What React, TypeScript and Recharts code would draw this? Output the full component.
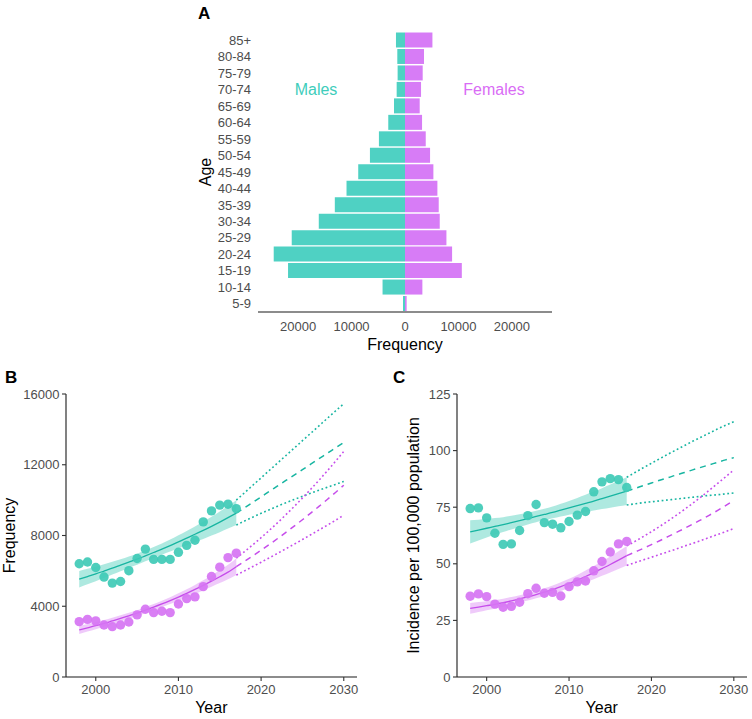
import React from 'react';
import { BarChart, Bar, XAxis, YAxis, ComposedChart, Line, Area } from 'recharts';

const FONT = '"Liberation Sans", Arial, Helvetica, sans-serif';
const TEAL_BAR = '#4FD1C3';
const PINK_BAR = '#D77CF6';
const TEAL_PT = '#3FCAB6';
const PINK_PT = '#D674F3';
const TEAL_LINE = '#17B5A1';
const PINK_LINE = '#C64DEB';
const TEAL_TEXT = '#3ECDBB';
const PINK_TEXT = '#D96CF5';
const AXIS = '#1a1a1a';
const TICK_TEXT = '#4D4D4D';

// ---------- Panel A: age pyramid ----------
const ageGroups = ['85+', '80-84', '75-79', '70-74', '65-69', '60-64', '55-59', '50-54', '45-49', '40-44', '35-39', '30-34', '25-29', '20-24', '15-19', '10-14', '5-9'];
const maleCounts = [1690, 1440, 1380, 1560, 2060, 3130, 4880, 6560, 8750, 10940, 13130, 16130, 21190, 24560, 21880, 4200, 380];
const femaleCounts = [5130, 3560, 3310, 3000, 2750, 3190, 3880, 4690, 5310, 6060, 6310, 6500, 7750, 8810, 10630, 3250, 310];
const pyramidTicks = [-20000, -10000, 0, 10000, 20000];

// ---------- Years ----------
const obsYears = [1998, 1999, 2000, 2001, 2002, 2003, 2004, 2005, 2006, 2007, 2008, 2009, 2010, 2011, 2012, 2013, 2014, 2015, 2016, 2017];
const projYears = [2017, 2018, 2019, 2020, 2021, 2022, 2023, 2024, 2025, 2026, 2027, 2028, 2029, 2030];
const yearTicks = [2000, 2010, 2020, 2030];

// ---------- Panel B: frequency ----------
const freqMaleObs = [6400, 6500, 6190, 5650, 5310, 5400, 6010, 6700, 7230, 6650, 6650, 6650, 7050, 7440, 7730, 8770, 9390, 9720, 9770, 9520];
const freqFemaleObs = [3130, 3260, 3170, 2940, 2850, 2940, 3110, 3510, 3830, 3640, 3720, 3640, 4130, 4430, 4530, 5110, 5680, 6210, 6750, 7000];
const freqMaleFit = [5530, 5680, 5830, 5990, 6150, 6320, 6490, 6660, 6850, 7040, 7230, 7430, 7640, 7850, 8070, 8290, 8520, 8760, 9010, 9265];
const freqMaleLow = [5060, 5240, 5420, 5605, 5790, 5980, 6165, 6345, 6540, 6730, 6910, 7090, 7270, 7445, 7625, 7800, 8000, 8190, 8390, 8590];
const freqMaleHigh = [6000, 6120, 6240, 6375, 6510, 6660, 6815, 6975, 7160, 7350, 7550, 7770, 8010, 8255, 8515, 8780, 9060, 9355, 9665, 10000];
const freqFemaleFit = [2660, 2780, 2900, 3030, 3170, 3310, 3460, 3610, 3780, 3950, 4130, 4320, 4520, 4730, 4950, 5180, 5420, 5670, 5930, 6240];
const freqFemaleLow = [2435, 2570, 2700, 2840, 2990, 3135, 3290, 3440, 3610, 3775, 3945, 4125, 4310, 4500, 4695, 4895, 5100, 5310, 5520, 5760];
const freqFemaleHigh = [2885, 2990, 3100, 3220, 3350, 3485, 3630, 3780, 3950, 4125, 4315, 4515, 4730, 4960, 5205, 5465, 5740, 6030, 6340, 6720];
const freqMaleUp = [10000, 10420, 10840, 11260, 11680, 12100, 12520, 12940, 13360, 13780, 14200, 14620, 15040, 15450];
const freqMaleMid = [9265, 9570, 9880, 10185, 10495, 10800, 11110, 11415, 11725, 12030, 12340, 12645, 12955, 13260];
const freqMaleDown = [8590, 8820, 9040, 9255, 9460, 9660, 9850, 10035, 10215, 10390, 10560, 10725, 10890, 11055];
const freqFemaleUp = [6720, 7090, 7475, 7875, 8295, 8725, 9175, 9640, 10120, 10615, 11125, 11650, 12195, 12750];
const freqFemaleMid = [6240, 6540, 6849, 7167, 7494, 7830, 8175, 8529, 8892, 9264, 9645, 10035, 10434, 10843];
const freqFemaleDown = [5760, 6000, 6243, 6490, 6740, 6993, 7250, 7510, 7773, 8040, 8310, 8583, 8860, 9150];
const freqTicks = [0, 4000, 8000, 12000, 16000];

// ---------- Panel C: incidence ----------
const incMaleObs = [74.4, 74.7, 70.3, 63.5, 58.6, 58.8, 64.7, 71.3, 76.2, 68.2, 67.5, 65.9, 68.7, 71.5, 73.1, 81.8, 86.2, 87.6, 87.2, 83.7];
const incFemaleObs = [35.7, 36.7, 35.5, 32.2, 30.8, 31.2, 33.0, 36.8, 39.2, 37.0, 37.4, 35.8, 39.9, 42.0, 42.4, 46.9, 51.0, 55.2, 58.8, 59.9];
const incMaleFit = [64.1, 64.9, 65.7, 66.5, 67.3, 68.2, 69.1, 70.0, 70.9, 71.8, 72.7, 73.7, 74.7, 75.7, 76.7, 77.7, 78.8, 79.9, 81.0, 82.1];
const incMaleLow = [59.0, 60.3, 61.6, 62.8, 64.0, 65.2, 66.3, 67.4, 68.4, 69.3, 70.1, 70.9, 71.7, 72.3, 72.9, 73.5, 74.2, 74.8, 75.4, 76.0];
const incMaleHigh = [69.2, 69.5, 69.8, 70.2, 70.6, 71.2, 71.9, 72.6, 73.4, 74.3, 75.3, 76.5, 77.7, 79.1, 80.5, 81.9, 83.4, 85.0, 86.6, 88.2];
const incFemaleFit = [30.3, 30.9, 31.5, 32.1, 32.8, 33.6, 34.5, 35.4, 36.4, 37.5, 38.6, 39.9, 41.3, 42.8, 44.4, 46.1, 47.9, 49.7, 51.6, 53.6];
const incFemaleLow = [27.9, 28.7, 29.5, 30.2, 31.0, 31.9, 32.9, 33.8, 34.8, 35.8, 36.8, 38.0, 39.2, 40.5, 41.8, 43.2, 44.7, 46.2, 47.7, 49.3];
const incFemaleHigh = [32.7, 33.1, 33.5, 34.0, 34.6, 35.3, 36.1, 37.0, 38.0, 39.2, 40.4, 41.8, 43.4, 45.1, 47.0, 49.0, 51.1, 53.2, 55.5, 57.9];
const incMaleUp = [88.2, 90.3, 92.4, 94.4, 96.4, 98.4, 100.3, 102.2, 104.1, 105.9, 107.7, 109.5, 111.2, 112.8];
const incMaleMid = [82.1, 83.3, 84.5, 85.7, 86.9, 88.0, 89.2, 90.3, 91.5, 92.6, 93.7, 94.8, 95.9, 96.9];
const incMaleDown = [76.0, 76.5, 77.0, 77.4, 77.8, 78.2, 78.6, 79.0, 79.4, 79.8, 80.2, 80.5, 80.9, 81.3];
const incFemaleUp = [57.9, 59.9, 62.0, 64.2, 66.5, 68.9, 71.4, 74.0, 76.7, 79.5, 82.4, 85.4, 88.4, 91.5];
const incFemaleMid = [53.6, 55.2, 56.8, 58.5, 60.2, 62.0, 63.8, 65.6, 67.5, 69.4, 71.4, 73.5, 75.7, 78.0];
const incFemaleDown = [49.3, 50.5, 51.7, 52.9, 54.1, 55.3, 56.5, 57.8, 59.0, 60.3, 61.6, 62.9, 64.2, 65.6];
const incTicks = [0, 25, 50, 75, 100, 125];

const pyramidRows = ageGroups.map((age, i) => ({ age, male: -maleCounts[i], female: femaleCounts[i] }));

const allYears = [...obsYears, ...projYears.filter((y) => obsYears.indexOf(y) < 0)];

function buildRows(
  mObs: number[], fObs: number[],
  mFit: number[], mLo: number[], mHi: number[],
  fFit: number[], fLo: number[], fHi: number[],
  mUp: number[], mMid: number[], mDown: number[],
  fUp: number[], fMid: number[], fDown: number[]
) {
  return allYears.map((year) => {
    const i = obsYears.indexOf(year);
    const j = projYears.indexOf(year);
    return {
      year,
      mObs: i >= 0 ? mObs[i] : null,
      fObs: i >= 0 ? fObs[i] : null,
      mFit: i >= 0 ? mFit[i] : null,
      fFit: i >= 0 ? fFit[i] : null,
      mBand: i >= 0 ? [mLo[i], mHi[i]] : null,
      fBand: i >= 0 ? [fLo[i], fHi[i]] : null,
      mUp: j >= 0 ? mUp[j] : null,
      mMid: j >= 0 ? mMid[j] : null,
      mDown: j >= 0 ? mDown[j] : null,
      fUp: j >= 0 ? fUp[j] : null,
      fMid: j >= 0 ? fMid[j] : null,
      fDown: j >= 0 ? fDown[j] : null,
    };
  });
}

const freqRows = buildRows(freqMaleObs, freqFemaleObs, freqMaleFit, freqMaleLow, freqMaleHigh,
  freqFemaleFit, freqFemaleLow, freqFemaleHigh, freqMaleUp, freqMaleMid, freqMaleDown,
  freqFemaleUp, freqFemaleMid, freqFemaleDown);
const incRows = buildRows(incMaleObs, incFemaleObs, incMaleFit, incMaleLow, incMaleHigh,
  incFemaleFit, incFemaleLow, incFemaleHigh, incMaleUp, incMaleMid, incMaleDown,
  incFemaleUp, incFemaleMid, incFemaleDown);

const tickStyle = { fill: TICK_TEXT, fontSize: 13, fontFamily: FONT };
const DOTTED = '1.8 2.6';
const DASHED = '6 5';

function TrendPanel(props: {
  rows: any[]; yDomain: number[]; yTicks: number[]; yWidth: number; marginLeft: number; marginRight: number;
}) {
  const { rows, yDomain, yTicks, yWidth, marginLeft, marginRight } = props;
  return (
    <ComposedChart
      width={376}
      height={359}
      data={rows}
      margin={{ top: 34, right: marginRight, bottom: 12, left: marginLeft }}
    >
      <XAxis
        type="number"
        dataKey="year"
        domain={[1996.4, 2031.6]}
        ticks={yearTicks}
        interval={0}
        allowDataOverflow
        height={30}
        tick={tickStyle}
        tickSize={4}
        tickMargin={3.5}
        axisLine={{ stroke: AXIS, strokeWidth: 1.1 }}
        tickLine={{ stroke: '#333', strokeWidth: 1.1 }}
      />
      <YAxis
        type="number"
        domain={yDomain}
        ticks={yTicks}
        interval={0}
        allowDataOverflow
        width={yWidth}
        tick={tickStyle}
        tickSize={4}
        tickMargin={2.5}
        axisLine={{ stroke: AXIS, strokeWidth: 1.1 }}
        tickLine={{ stroke: '#333', strokeWidth: 1.1 }}
      />
      <Area dataKey="mBand" type="monotone" stroke="none" fill={TEAL_PT} fillOpacity={0.42} isAnimationActive={false} activeDot={false} />
      <Area dataKey="fBand" type="monotone" stroke="none" fill={PINK_PT} fillOpacity={0.38} isAnimationActive={false} activeDot={false} />
      <Line dataKey="mObs" stroke="none" dot={{ r: 4.7, fill: TEAL_PT, stroke: 'none', fillOpacity: 0.92 }} activeDot={false} isAnimationActive={false} />
      <Line dataKey="fObs" stroke="none" dot={{ r: 4.7, fill: PINK_PT, stroke: 'none', fillOpacity: 0.92 }} activeDot={false} isAnimationActive={false} />
      <Line dataKey="mFit" type="monotone" stroke={TEAL_LINE} strokeWidth={1.3} dot={false} activeDot={false} isAnimationActive={false} />
      <Line dataKey="fFit" type="monotone" stroke={PINK_LINE} strokeWidth={1.3} dot={false} activeDot={false} isAnimationActive={false} />
      <Line dataKey="mUp" type="monotone" stroke={TEAL_LINE} strokeWidth={1.6} strokeDasharray={DOTTED} dot={false} activeDot={false} isAnimationActive={false} />
      <Line dataKey="mMid" type="monotone" stroke={TEAL_LINE} strokeWidth={1.5} strokeDasharray={DASHED} dot={false} activeDot={false} isAnimationActive={false} />
      <Line dataKey="mDown" type="monotone" stroke={TEAL_LINE} strokeWidth={1.6} strokeDasharray={DOTTED} dot={false} activeDot={false} isAnimationActive={false} />
      <Line dataKey="fUp" type="monotone" stroke={PINK_LINE} strokeWidth={1.6} strokeDasharray={DOTTED} dot={false} activeDot={false} isAnimationActive={false} />
      <Line dataKey="fMid" type="monotone" stroke={PINK_LINE} strokeWidth={1.5} strokeDasharray={DASHED} dot={false} activeDot={false} isAnimationActive={false} />
      <Line dataKey="fDown" type="monotone" stroke={PINK_LINE} strokeWidth={1.6} strokeDasharray={DOTTED} dot={false} activeDot={false} isAnimationActive={false} />
    </ComposedChart>
  );
}

export default function App() {
  return (
    <div style={{ position: 'absolute', left: 0, top: 0, width: 752, height: 719, background: '#fff', fontFamily: FONT }}>
      <div style={{ position: 'absolute', left: 0, top: 0 }}>
        <BarChart
          width={752}
          height={360}
          data={pyramidRows}
          layout="vertical"
          stackOffset="sign"
          barCategoryGap={0.5}
          margin={{ top: 32, right: 200, bottom: 18, left: 198 }}
        >
          <XAxis
            type="number"
            domain={[-27500, 27500]}
            ticks={pyramidTicks}
            interval={0}
            tickFormatter={(v: number) => String(Math.abs(v))}
            height={30}
            tick={tickStyle}
            tickSize={4}
            tickMargin={6}
            tickLine={false}
            axisLine={{ stroke: AXIS, strokeWidth: 1.1 }}
          />
          <YAxis
            type="category"
            dataKey="age"
            width={60}
            interval={0}
            tick={tickStyle}
            tickSize={4}
            tickMargin={3}
            tickLine={false}
            axisLine={false}
          />
          <Bar dataKey="male" stackId="s" fill={TEAL_BAR} isAnimationActive={false} />
          <Bar dataKey="female" stackId="s" fill={PINK_BAR} isAnimationActive={false} />
        </BarChart>
      </div>
      <div style={{ position: 'absolute', left: 0, top: 360 }}>
        <TrendPanel rows={freqRows} yDomain={[0, 16000]} yTicks={freqTicks} yWidth={56} marginLeft={10} marginRight={19} />
      </div>
      <div style={{ position: 'absolute', left: 376, top: 360 }}>
        <TrendPanel rows={incRows} yDomain={[0, 125]} yTicks={incTicks} yWidth={40} marginLeft={41} marginRight={5} />
      </div>
      <svg width={752} height={719} style={{ position: 'absolute', left: 0, top: 0, pointerEvents: 'none' }} fontFamily={FONT}>
        <text x={198} y={18.5} fontSize={17} fontWeight="bold" fill="#000">A</text>
        <text x={5} y={383} fontSize={17} fontWeight="bold" fill="#000">B</text>
        <text x={393} y={383} fontSize={17} fontWeight="bold" fill="#000">C</text>
        <text x={316} y={95} fontSize={16} fill={TEAL_TEXT} textAnchor="middle">Males</text>
        <text x={494} y={95} fontSize={16} fill={PINK_TEXT} textAnchor="middle">Females</text>
        <text x={405} y={349.5} fontSize={16} fill="#000" textAnchor="middle">Frequency</text>
        <text x={211} y={172} fontSize={16} fill="#000" textAnchor="middle" transform="rotate(-90 211 172)">Age</text>
        <text x={15} y={535.5} fontSize={16} fill="#000" textAnchor="middle" transform="rotate(-90 15 535.5)">Frequency</text>
        <text x={211.3} y={713} fontSize={16} fill="#000" textAnchor="middle">Year</text>
        <text x={419} y={535.5} fontSize={16} fill="#000" textAnchor="middle" transform="rotate(-90 419 535.5)">Incidence per 100,000 population</text>
        <text x={601.7} y={713} fontSize={16} fill="#000" textAnchor="middle">Year</text>
      </svg>
    </div>
  );
}
